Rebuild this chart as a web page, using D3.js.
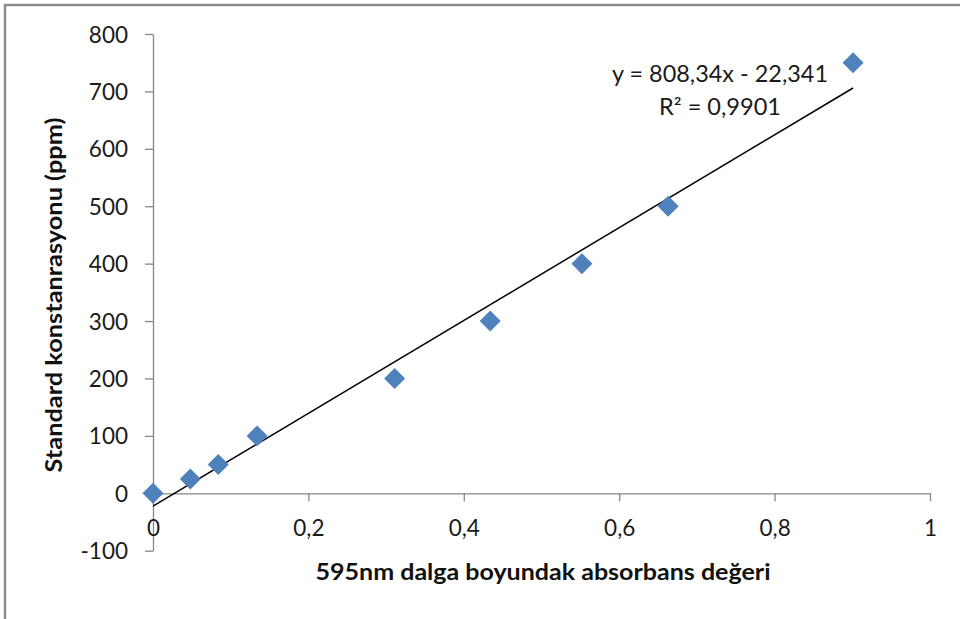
<!DOCTYPE html>
<html><head><meta charset="utf-8">
<script src="https://cdn.jsdelivr.net/npm/d3@7"></script>
<style>
html,body{margin:0;padding:0;background:#fff;}
svg{display:block;font-family:Lato,"Open Sans",sans-serif;}
</style></head>
<body>
<svg id="c" width="960" height="619"></svg>
<script>
// Data
const absorbance = [0, 0.048, 0.084, 0.134, 0.311, 0.434, 0.552, 0.663, 0.901];
const concentration = [0, 25, 50, 100, 200, 300, 400, 500, 750];
const xTicks = [0, 0.2, 0.4, 0.6, 0.8, 1];
const yTicks = [-100, 0, 100, 200, 300, 400, 500, 600, 700, 800];
const trendSlope = 808.34, trendIntercept = -22.341;
const equationLines = ["y = 808,34x - 22,341", "R² = 0,9901"];
const xTitle = "595nm dalga boyundak absorbans değeri";
const yTitle = "Standard konstanrasyonu (ppm)";

const svg = d3.select("#c");
const fmt = d => String(d).replace(".", ",");

// outer frame (only top/left visible)
svg.append("path").attr("d","M5,619 V5 H960").attr("fill","none").attr("stroke","#8c8c8c").attr("stroke-width",2.5);

const x = d3.scaleLinear().domain([0,1]).range([153,930]);
const y = d3.scaleLinear().domain([-100,800]).range([550.7,34]);

// y axis at x=0
const yAxis = d3.axisLeft(y).tickValues(yTicks).tickFormat(d=>d).tickSize(8).tickSizeOuter(0);
const gy = svg.append("g").attr("transform",`translate(${x(0)},0)`).call(yAxis);
gy.select(".domain").attr("stroke","#868686").attr("stroke-width",1.3);
gy.selectAll(".tick line").attr("stroke","#868686").attr("stroke-width",1.3);
gy.selectAll(".tick text").attr("x",-25).attr("dy","0.36em").attr("font-size",22.5).attr("fill","#1a1a1a").attr("font-family","Lato");

// x axis at y=0
const xAxis = d3.axisBottom(x).tickValues(xTicks).tickFormat(fmt).tickSize(8).tickSizeOuter(0);
const gx = svg.append("g").attr("transform",`translate(0,${y(0)})`).call(xAxis);
gx.select(".domain").attr("stroke","#868686").attr("stroke-width",1.3);
gx.selectAll(".tick line").attr("stroke","#868686").attr("stroke-width",1.3);
gx.selectAll(".tick text").attr("y",0).attr("dy","43").attr("font-size",22.5).attr("fill","#1a1a1a").attr("font-family","Lato");

// trendline
const xMin = 0, xMax = d3.max(absorbance);
svg.append("line")
  .attr("x1",x(xMin)).attr("y1",y(trendSlope*xMin+trendIntercept))
  .attr("x2",x(xMax)).attr("y2",y(trendSlope*xMax+trendIntercept))
  .attr("stroke","#000").attr("stroke-width",1.5);

// markers
const diamond = d3.symbol().type(d3.symbolSquare).size(220);
svg.append("g").selectAll("path").data(absorbance.map((a,i)=>[a,concentration[i]])).join("path")
  .attr("d",diamond)
  .attr("transform",d=>`translate(${x(d[0])},${y(d[1])}) rotate(45)`)
  .attr("fill","#4f81bd");

// equation
const eqW = [216, 122];
svg.append("g").selectAll("text").data(equationLines).join("text")
  .attr("x",720).attr("y",(d,i)=>82+i*32.5)
  .attr("text-anchor","middle").attr("font-size",22.5).attr("fill","#1a1a1a")
  .attr("textLength",(d,i)=>eqW[i]).attr("lengthAdjust","spacingAndGlyphs").text(d=>d);

// axis titles
svg.append("text").attr("x",543).attr("y",580).attr("text-anchor","middle")
  .attr("font-size",22).attr("font-weight","bold").attr("fill","#111")
  .attr("textLength",455).attr("lengthAdjust","spacingAndGlyphs").text(xTitle);
svg.append("text").attr("transform","translate(62,295) rotate(-90)").attr("text-anchor","middle")
  .attr("font-size",22).attr("font-weight","bold").attr("fill","#111")
  .attr("textLength",355).attr("lengthAdjust","spacingAndGlyphs").text(yTitle);
</script>
</body></html>
